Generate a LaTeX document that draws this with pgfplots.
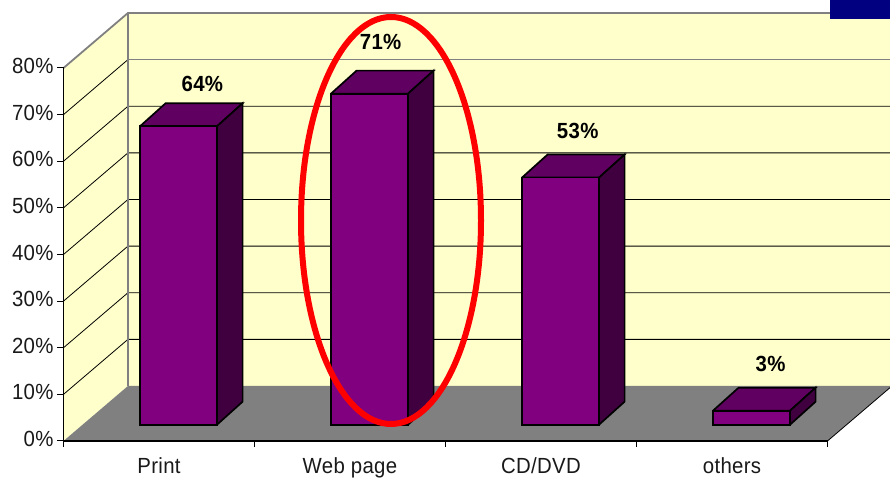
\documentclass[border=0pt]{standalone}
\usepackage{pgfplots}
\pgfplotsset{compat=1.18}
\usepackage{fontspec}
\setmainfont{Liberation Sans}
\newfontfamily\narrowf[FakeStretch=0.93,LetterSpace=1.5]{Liberation Sans}
\definecolor{wallY}{HTML}{FFFFCC}
\definecolor{floorG}{HTML}{808080}
\definecolor{barF}{HTML}{800080}
\definecolor{barT}{HTML}{600060}
\definecolor{barS}{HTML}{400040}
\definecolor{navyB}{HTML}{000080}
\begin{document}
\begin{tikzpicture}[x=1bp,y=1bp]
\path[use as bounding box] (0,0) rectangle (890,478);
\clip (0,0) rectangle (890,478);
% frame axis: walls, floor, grid, ticks
\begin{axis}[
  at={(63.5bp,37bp)}, anchor=south west,
  scale only axis, width=764bp, height=373bp,
  xmin=0, xmax=4, ymin=0, ymax=80,
  clip=false, axis on top,
  axis x line=bottom, axis y line=left,
  axis line style={-, line width=1.3bp, black},
  x axis line style={-},
  xtick={0.5,1.5,2.5,3.5},
  xticklabels={Print,Web page,CD/DVD,others},
  major x tick style={draw=none},
  minor xtick={0,1,2,3,4},
  minor x tick style={black, line width=1bp},
  minor tick length=6bp,
  ytick={0,10,...,80},
  y tick style={black, line width=1bp},
  major tick length=6bp,
  tick align=outside,
  yticklabel={\pgfmathprintnumber{\tick}\%},
  /pgf/number format/assume math mode=true,
  tick label style={font=\narrowf\fontsize{22}{24}\selectfont, text=black!90},
  xticklabel style={yshift=-7bp},
  yticklabel style={xshift=-0.5bp, yshift=2bp},
]
% back wall
\addplot[fill=wallY, draw=none] coordinates {(0.3375,11.8) (4.36,11.8) (4.36,91.8) (0.3375,91.8) (0.3375,11.8)};
% left wall
\addplot[fill=wallY, draw=none] coordinates {(0,0) (0.3375,11.8) (0.3375,91.8) (0,80) (0,0)};
% floor
\addplot[fill=floorG, draw=none] coordinates {(0,0) (4,0) (4.3375,11.8) (0.3375,11.8) (0,0)};
% grid lines
\addplot[black, line width=0.8bp] coordinates {(0,10) (0.3375,21.8) (4.36,21.8)};
\addplot[black, line width=0.8bp] coordinates {(0,20) (0.3375,31.8) (4.36,31.8)};
\addplot[black, line width=0.8bp] coordinates {(0,30) (0.3375,41.8) (4.36,41.8)};
\addplot[black, line width=0.8bp] coordinates {(0,40) (0.3375,51.8) (4.36,51.8)};
\addplot[black, line width=0.8bp] coordinates {(0,50) (0.3375,61.8) (4.36,61.8)};
\addplot[black, line width=0.8bp] coordinates {(0,60) (0.3375,71.8) (4.36,71.8)};
\addplot[black, line width=0.8bp] coordinates {(0,70) (0.3375,81.8)};
\addplot[floorG, line width=1.2bp] coordinates {(0.3375,81.8) (4.36,81.8)};
% wall border
\addplot[floorG, line width=1.8bp] coordinates {(0,80) (0.3375,91.8) (4.36,91.8)};
\addplot[floorG, line width=1.8bp] coordinates {(0.3375,11.8) (0.3375,91.8)};
% floor right edge
\addplot[black, line width=0.8bp] coordinates {(4,0) (4.3375,11.8)};
\end{axis}
% bars: same scales, base moved onto the floor
\begin{axis}[
  at={(83bp,53.3bp)}, anchor=south west,
  scale only axis, width=764bp, height=373bp,
  xmin=0, xmax=4, ymin=0, ymax=80,
  clip=false, hide axis,
]
% Print 64
\addplot[fill=barT, draw=black, line width=1.7bp] coordinates {(0.2984,64) (0.7016,64) (0.8356,68.94) (0.4324,68.94) (0.2984,64)};
\addplot[fill=barS, draw=black, line width=1.7bp] coordinates {(0.7016,0) (0.8356,4.94) (0.8356,68.94) (0.7016,64) (0.7016,0)};
% Web page 71
\addplot[fill=barT, draw=black, line width=1.7bp] coordinates {(1.2984,71) (1.7016,71) (1.8356,75.94) (1.4324,75.94) (1.2984,71)};
\addplot[fill=barS, draw=black, line width=1.7bp] coordinates {(1.7016,0) (1.8356,4.94) (1.8356,75.94) (1.7016,71) (1.7016,0)};
% CD/DVD 53
\addplot[fill=barT, draw=black, line width=1.7bp] coordinates {(2.2984,53) (2.7016,53) (2.8356,57.94) (2.4324,57.94) (2.2984,53)};
\addplot[fill=barS, draw=black, line width=1.7bp] coordinates {(2.7016,0) (2.8356,4.94) (2.8356,57.94) (2.7016,53) (2.7016,0)};
% others 3
\addplot[fill=barT, draw=black, line width=1.7bp] coordinates {(3.2984,3) (3.7016,3) (3.8356,7.94) (3.4324,7.94) (3.2984,3)};
\addplot[fill=barS, draw=black, line width=1.7bp] coordinates {(3.7016,0) (3.8356,4.94) (3.8356,7.94) (3.7016,3) (3.7016,0)};
% front faces
\addplot[ybar, bar width=77bp, fill=barF, draw=black, line width=1.7bp] coordinates {(0.5,64) (1.5,71) (2.5,53) (3.5,3)};
% value labels
\node[font=\narrowf\fontsize{22}{24}\selectfont\bfseries, text=black] at (axis cs:0.625,73.1) {64\%};
\node[font=\narrowf\fontsize{22}{24}\selectfont\bfseries, text=black] at (axis cs:1.558,82.1) {71\%};
\node[font=\narrowf\fontsize{22}{24}\selectfont\bfseries, text=black] at (axis cs:2.59,63.1) {53\%};
\node[font=\narrowf\fontsize{22}{24}\selectfont\bfseries, text=black] at (axis cs:3.6,13.1) {3\%};
\end{axis}
% annotation
\draw[red, line width=6bp] (391,257.5) ellipse [x radius=90, y radius=203.5];
\fill[navyB] (830,459) rectangle (890,478);
\end{tikzpicture}
\end{document}
